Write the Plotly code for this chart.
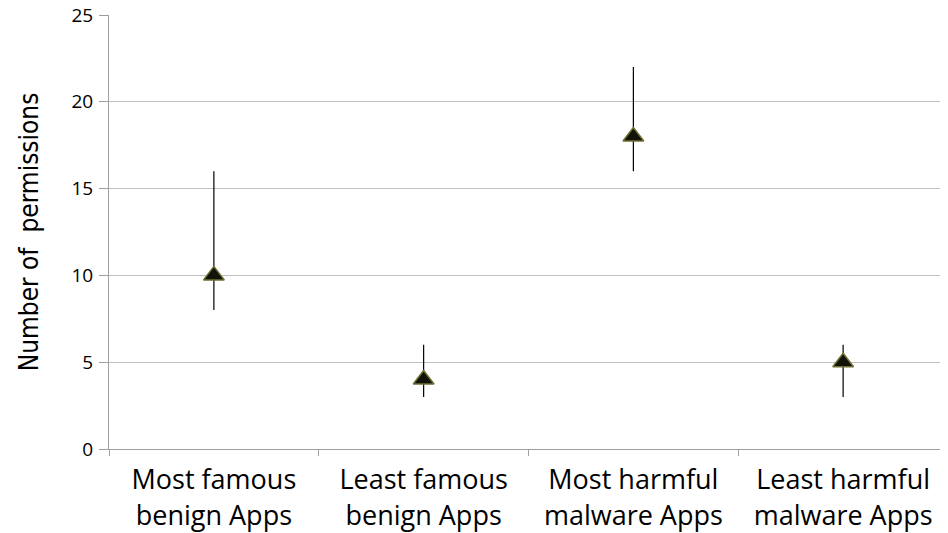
import plotly.graph_objects as go

categories = ["Most famous<br>benign Apps", "Least famous<br>benign Apps",
              "Most harmful<br>malware Apps", "Least harmful<br>malware Apps"]
mean_vals = [10, 4, 18, 5]
max_vals = [16, 6, 22, 6]
min_vals = [8, 3, 16, 3]

err_plus = [mx - m for mx, m in zip(max_vals, mean_vals)]
err_minus = [m - mn for mn, m in zip(min_vals, mean_vals)]

fig = go.Figure()
fig.add_trace(go.Scatter(
    x=categories, y=mean_vals, mode="markers",
    marker=dict(symbol="triangle-up", size=18, color="#121208",
                line=dict(color="#6f6f34", width=1.5)),
    error_y=dict(type="data", symmetric=False, array=err_plus, arrayminus=err_minus,
                 color="black", thickness=1.2, width=0),
    showlegend=False,
))

fig.update_layout(
    width=940, height=525,
    margin=dict(l=101, r=0, t=7, b=84),
    paper_bgcolor="white", plot_bgcolor="white",
    font=dict(family="Open Sans, sans-serif", color="black"),
)
fig.update_xaxes(
    type="category", range=[-0.5, 3.5], tickson="boundaries", ticks="outside", ticklen=6,
    tickcolor="#a0a0a0", showline=True, linecolor="#a0a0a0", linewidth=1,
    showgrid=False, tickfont=dict(size=27, color="black"), automargin=False,
    ticklabelstandoff=7,
)
fig.update_yaxes(
    range=[0, 25], dtick=5, ticks="outside", ticklen=9, tickcolor="#a0a0a0",
    showline=True, linecolor="#a0a0a0", linewidth=1,
    showgrid=True, gridcolor="#bfbfbf", gridwidth=1, zeroline=False,
    tickfont=dict(size=19, color="black"), automargin=False,
    ticklabeloverflow="allow", ticklabelstandoff=2,
    title=dict(text="Number of  permissions",
               font=dict(family="DejaVu Sans Condensed, Roboto Condensed, Roboto, sans-serif", size=26, color="black"),
               standoff=25),
)

fig.write_html("out.html")
